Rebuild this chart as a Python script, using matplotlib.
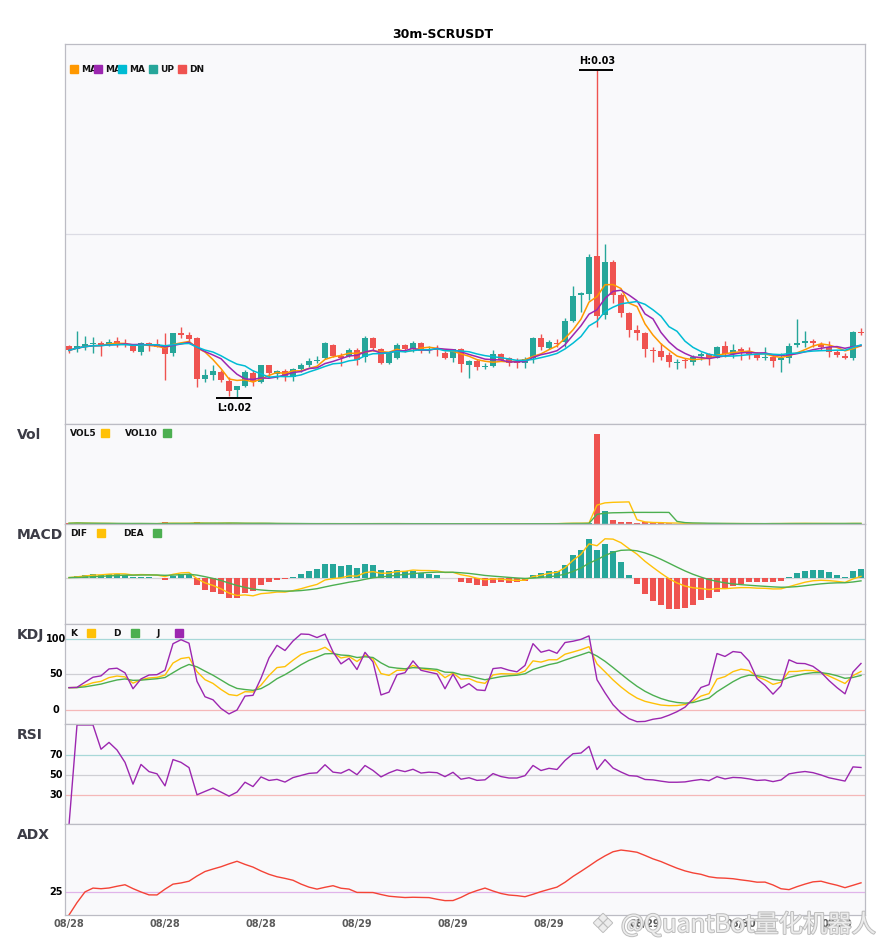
import numpy as np
import pandas as pd
import matplotlib
matplotlib.use('Agg')
import matplotlib.pyplot as plt
from matplotlib.patches import Rectangle
import matplotlib.patheffects as pe

# 30m candles, prices in 1e-5 USDT
opens = [2308, 2302, 2308, 2312, 2314, 2310, 2318, 2314, 2308, 2296,
         2314, 2312, 2306, 2294, 2334, 2330, 2324, 2242, 2250, 2256,
         2238, 2220, 2228, 2254, 2236, 2270, 2252, 2258, 2246, 2262,
         2270, 2278, 2284, 2310, 2288, 2288, 2300, 2286, 2324, 2302,
         2274, 2284, 2310, 2302, 2314, 2300, 2302, 2294, 2284, 2302,
         2270, 2278, 2266, 2268, 2292, 2284, 2278, 2274, 2284, 2324,
         2304, 2314, 2316, 2358, 2410, 2412, 2488, 2370, 2476, 2410,
         2374, 2340, 2334, 2300, 2298, 2290, 2274, 2280, 2276, 2288,
         2292, 2284, 2308, 2292, 2302, 2298, 2292, 2284, 2286, 2280,
         2284, 2310, 2314, 2318, 2312, 2306, 2296, 2288, 2284, 2336]
highs = [2310, 2338, 2328, 2326, 2318, 2322, 2326, 2322, 2310, 2316,
         2316, 2322, 2334, 2334, 2346, 2336, 2326, 2262, 2270, 2260,
         2246, 2228, 2260, 2260, 2270, 2270, 2260, 2262, 2264, 2274,
         2284, 2288, 2316, 2312, 2294, 2304, 2304, 2328, 2326, 2304,
         2294, 2314, 2312, 2318, 2316, 2308, 2310, 2298, 2302, 2304,
         2280, 2282, 2274, 2300, 2294, 2286, 2284, 2286, 2326, 2332,
         2320, 2322, 2364, 2428, 2416, 2492, 2860, 2512, 2480, 2414,
         2376, 2350, 2336, 2306, 2314, 2296, 2282, 2284, 2290, 2296,
         2294, 2308, 2318, 2312, 2306, 2306, 2296, 2306, 2290, 2294,
         2314, 2362, 2338, 2322, 2316, 2318, 2300, 2294, 2338, 2344]
lows = [2294, 2296, 2300, 2294, 2288, 2308, 2306, 2306, 2296, 2290,
        2298, 2306, 2240, 2288, 2324, 2316, 2226, 2236, 2240, 2236,
        2208, 2204, 2226, 2228, 2234, 2246, 2242, 2238, 2238, 2256,
        2266, 2274, 2282, 2286, 2268, 2286, 2270, 2276, 2298, 2272,
        2272, 2282, 2296, 2296, 2294, 2294, 2288, 2282, 2276, 2256,
        2244, 2260, 2262, 2266, 2278, 2268, 2264, 2264, 2274, 2300,
        2302, 2306, 2306, 2356, 2376, 2400, 2346, 2362, 2394, 2366,
        2326, 2320, 2286, 2276, 2280, 2266, 2262, 2264, 2270, 2280,
        2270, 2284, 2286, 2284, 2280, 2282, 2280, 2280, 2266, 2256,
        2274, 2306, 2306, 2306, 2300, 2286, 2286, 2282, 2280, 2330]
closes = [2299, 2308, 2312, 2314, 2310, 2316, 2314, 2310, 2298, 2314,
          2308, 2306, 2292, 2334, 2330, 2322, 2242, 2250, 2258, 2240,
          2218, 2228, 2256, 2236, 2270, 2254, 2258, 2246, 2262, 2270,
          2278, 2280, 2314, 2288, 2284, 2300, 2280, 2324, 2304, 2274,
          2294, 2310, 2302, 2314, 2298, 2302, 2300, 2284, 2302, 2272,
          2278, 2266, 2268, 2292, 2280, 2274, 2274, 2282, 2324, 2306,
          2316, 2312, 2358, 2408, 2414, 2486, 2368, 2476, 2410, 2374,
          2340, 2334, 2302, 2298, 2286, 2276, 2276, 2278, 2286, 2292,
          2284, 2306, 2292, 2300, 2298, 2292, 2284, 2286, 2278, 2284,
          2308, 2314, 2318, 2314, 2306, 2296, 2290, 2284, 2336, 2334]
volumes = [8, 14, 6, 5, 4, 4, 3, 3, 5, 6,
           3, 3, 22, 9, 4, 5, 20, 8, 7, 6,
           10, 7, 6, 5, 6, 4, 3, 3, 4, 3,
           3, 3, 5, 4, 3, 3, 4, 5, 4, 4,
           3, 4, 3, 3, 3, 2, 3, 3, 3, 4,
           4, 3, 2, 3, 3, 2, 2, 3, 6, 4,
           4, 3, 16, 15, 6, 12, 1000, 140, 45, 18,
           24, 12, 18, 12, 10, 6, 5, 4, 4, 5,
           4, 5, 6, 4, 3, 3, 4, 3, 9, 5,
           8, 7, 6, 5, 4, 5, 4, 5, 12, 4]
date_ticks = [0, 12, 24, 36, 48, 60, 72, 84, 96]
date_labels = ['08/28', '08/28', '08/28', '08/29', '08/29', '08/29', '08/29', '08/30', '08/30']

UP = '#26a69a'
DN = '#ef5350'
C_MA1, C_MA2, C_MA3 = '#ff9800', '#9c27b0', '#00bcd4'
YEL, GRN, PUR = '#ffc107', '#4caf50', '#9c27b0'

df = pd.DataFrame({'o': opens, 'h': highs, 'l': lows, 'c': closes, 'v': volumes}, dtype=float)
df[['o', 'h', 'l', 'c']] *= 1e-5
x = np.arange(len(df))
o, h, l, c, v = df.o, df.h, df.l, df.c, df.v

ma5 = c.rolling(5, min_periods=1).mean()
ma7 = c.rolling(7, min_periods=1).mean()
ma10 = c.rolling(10, min_periods=1).mean()
vol5 = v.rolling(5, min_periods=1).mean()
vol10 = v.rolling(10, min_periods=1).mean()

dif = c.ewm(span=12, adjust=False).mean() - c.ewm(span=26, adjust=False).mean()
dea = dif.ewm(span=9, adjust=False).mean()
hist = 2 * (dif - dea)

low9 = l.rolling(9, min_periods=1).min()
high9 = h.rolling(9, min_periods=1).max()
rsv = ((c - low9) / (high9 - low9) * 100).fillna(50)
k = rsv.ewm(com=2, adjust=False).mean()
d = k.ewm(com=2, adjust=False).mean()
j = 3 * k - 2 * d

diff = c.diff().fillna(0)
gain = diff.clip(lower=0).ewm(alpha=1 / 14, adjust=False).mean()
loss = (-diff.clip(upper=0)).ewm(alpha=1 / 14, adjust=False).mean()
rsi = (100 * gain / (gain + loss)).fillna(0)

up_move = h.diff().fillna(0)
dn_move = (-l.diff()).fillna(0)
pdm = pd.Series(np.where((up_move > dn_move) & (up_move > 0), up_move, 0.0))
mdm = pd.Series(np.where((dn_move > up_move) & (dn_move > 0), dn_move, 0.0))
pdm_s = pdm.ewm(span=14, adjust=False).mean()
mdm_s = mdm.ewm(span=14, adjust=False).mean()
dx = (100 * (pdm_s - mdm_s).abs() / (pdm_s + mdm_s)).fillna(0)
adx = dx.ewm(span=14, adjust=False).mean()

W, H = 885, 950
fig = plt.figure(figsize=(W / 100, H / 100), dpi=100)


def box(top, bottom):
    return [65 / W, 1 - bottom / H, 800 / W, (bottom - top) / H]


def ftext(px, py, s, **kw):
    return fig.text(px / W, 1 - py / H, s, **kw)


def square(px, py, color):
    fig.add_artist(Rectangle((px / W, 1 - (py + 4) / H), 8 / W, 8 / H,
                             transform=fig.transFigure, color=color, zorder=5))


ax = fig.add_axes(box(44, 424))
axv = fig.add_axes(box(424, 524), sharex=ax)
axm = fig.add_axes(box(524, 624), sharex=ax)
axk = fig.add_axes(box(624, 724), sharex=ax)
axr = fig.add_axes(box(724, 824), sharex=ax)
axa = fig.add_axes(box(824, 915), sharex=ax)
for a in [ax, axv, axm, axk, axr, axa]:
    a.set_facecolor('#f9f9fb')
    for s in a.spines.values():
        s.set_color('#bcbcc4')
        s.set_linewidth(0.9)
    a.tick_params(length=0, labelleft=False, labelbottom=False)
    a.set_yticks([])

colors = np.where(c >= o, UP, DN)

# main candles
ax.vlines(x, l, h, colors=colors, linewidth=1.0, zorder=2)
body = np.maximum((c - o).abs(), 0.000012)
ax.bar(x, body, bottom=np.minimum(o, c), width=0.72, color=colors, zorder=3)
ax.plot(x, ma5, color=C_MA1, lw=1.1, zorder=4)
ax.plot(x, ma7, color=C_MA2, lw=1.1, zorder=4)
ax.plot(x, ma10, color=C_MA3, lw=1.1, zorder=4)
lo, hi = l.min(), h.max()
pad = 0.08 * (hi - lo)
ax.set_ylim(lo - pad, hi + pad)
ax.axhline((lo + hi) / 2, color='#dcdce4', lw=0.9, zorder=0)
ax.set_xlim(-0.5, len(df) - 0.5)

ih, il = int(h.idxmax()), int(l.idxmin())
ax.hlines(hi, ih - 2.3, ih + 2.0, color='black', lw=1.4, zorder=5)
ax.text(ih, hi + 0.012 * (hi - lo), f'H:{hi:.2f}', ha='center', va='bottom',
        fontsize=7, fontweight='bold')
ax.hlines(lo, il - 2.6, il + 1.9, color='black', lw=1.4, zorder=5)
ax.text(il - 0.3, lo - 0.015 * (hi - lo), f'L:{lo:.2f}', ha='center', va='top',
        fontsize=7, fontweight='bold')

# volume
axv.bar(x, v, width=0.72, color=colors)
axv.plot(x, vol5, color=YEL, lw=1.0)
axv.plot(x, vol10, color=GRN, lw=1.0)
axv.set_ylim(0, v.max() * 1.11)

# MACD
axm.axhline(0, color='#d4d4d8', lw=0.9, zorder=0)
axm.bar(x, hist, width=0.72, color=np.where(hist >= 0, UP, DN))
axm.plot(x, dif, color=YEL, lw=1.0)
axm.plot(x, dea, color=GRN, lw=1.0)
mlo = min(hist.min(), dif.min(), dea.min())
mhi = max(hist.max(), dif.max(), dea.max())
mp = 0.21 * (mhi - mlo)
axm.set_ylim(mlo - mp, mhi + mp)

# KDJ
for lvl, col in [(100, '#a8d8d8'), (50, '#cfcfd4'), (0, '#f5b8b8')]:
    axk.axhline(lvl, color=col, lw=0.9, zorder=0)
    axk.text(-0.0115, lvl, str(lvl), transform=axk.get_yaxis_transform(),
             ha='center', va='center', fontsize=7, fontweight='bold')
axk.plot(x, k, color=YEL, lw=1.0)
axk.plot(x, d, color=GRN, lw=1.0)
axk.plot(x, j, color=PUR, lw=1.0)
axk.set_ylim(-20, 121)

# RSI
for lvl, col in [(70, '#a8d8d8'), (50, '#cfcfd4'), (30, '#f5b8b8')]:
    axr.axhline(lvl, color=col, lw=0.9, zorder=0)
    axr.text(-0.0115, lvl, str(lvl), transform=axr.get_yaxis_transform(),
             ha='center', va='center', fontsize=7, fontweight='bold')
axr.plot(x, rsi, color=PUR, lw=1.0)
axr.set_ylim(1, 101)

# ADX
axa.axhline(25, color='#e0b4ea', lw=0.9, zorder=0)
axa.text(-0.0115, 25, '25', transform=axa.get_yaxis_transform(),
         ha='center', va='center', fontsize=7, fontweight='bold')
axa.plot(x, adx, color='#f44336', lw=1.0)
axa.set_ylim(0, 98)
axa.set_xticks(date_ticks)
axa.set_xticklabels(date_labels)
axa.tick_params(labelbottom=True, pad=3, labelsize=7, labelcolor='#5a5a5a')
for t in axa.get_xticklabels():
    t.set_fontweight('bold')

# titles and legends
ftext(443, 34, '30m-SCRUSDT', ha='center', va='center', fontsize=9, fontweight='bold')
for lab, py in [('Vol', 435), ('MACD', 535), ('KDJ', 635), ('RSI', 735), ('ADX', 835)]:
    ftext(17, py, lab, ha='left', va='center', fontsize=10, fontweight='bold', color='#3c3c46')

leg = dict(ha='left', va='center', fontsize=6.5, fontweight='bold', color='#111111')
for px, col, lab in [(70, C_MA1, 'MA'), (94, C_MA2, 'MA'), (118, C_MA3, 'MA'),
                     (149, UP, 'UP'), (178, DN, 'DN')]:
    square(px, 69, col)
    ftext(px + 11, 69, lab, **leg)
ftext(70, 434, 'VOL5', **leg)
ftext(125, 434, 'VOL10', **leg)
square(101, 433, YEL)
square(163, 433, GRN)
ftext(70, 534, 'DIF', **leg)
ftext(123, 534, 'DEA', **leg)
square(97, 533, YEL)
square(153, 533, GRN)
ftext(70, 634, 'K', **leg)
ftext(113, 634, 'D', **leg)
ftext(156, 634, 'J', **leg)
square(87, 633, YEL)
square(131, 633, GRN)
square(175, 633, PUR)

# watermark
wm = [pe.Stroke(linewidth=1.4, foreground='#bdbdbd'), pe.Normal()]
ftext(603, 925, '\u2756', ha='center', va='center', fontsize=18, color='#ececec',
      family=['DejaVu Sans'], path_effects=wm, zorder=10)
ftext(621, 925, '@QuantBot量化机器人', ha='left', va='center', fontsize=17.5,
      color='#ececec', family=['Noto Sans CJK SC', 'DejaVu Sans'], path_effects=wm, zorder=10)

fig.savefig('out.png', dpi=100, facecolor='white')
